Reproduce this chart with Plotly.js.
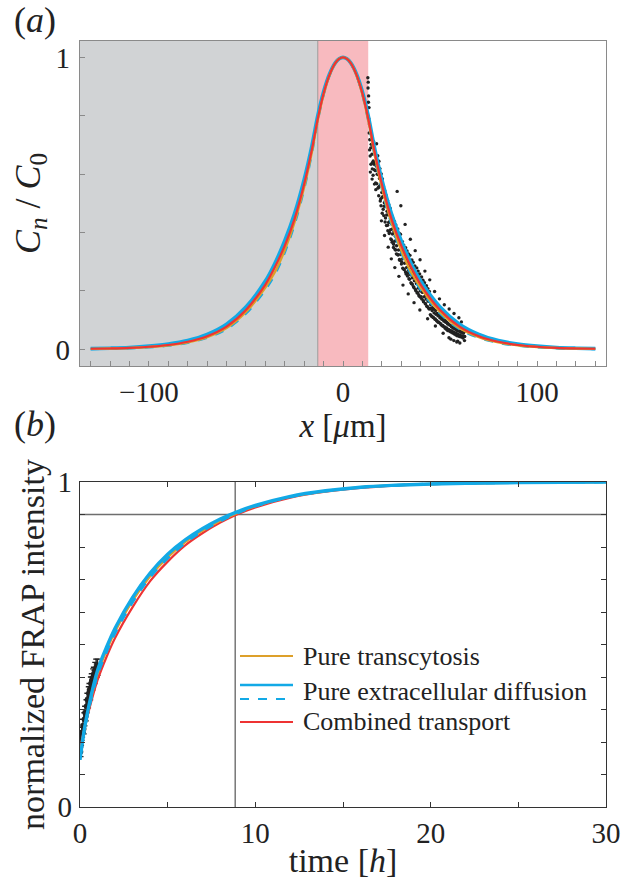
<!DOCTYPE html>
<html>
<head>
<meta charset="utf-8">
<script src="https://cdn.plot.ly/plotly-3.0.1.min.js"></script>
<style>html,body{margin:0;padding:0;background:#fff;}#chart{width:624px;height:886px;}</style>
</head>
<body>
<div id="chart"></div>
<script>
// ---------- Panel (a): concentration profiles ----------
const xProfile = [-130,-120,-110,-100,-90,-80,-70,-60,-50,-40,-35,-30,-25,-20,-16,-13,-10,-7,-4,-2,0,2,4,7,10,13,16,20,25,30,35,40,50,60,70,80,90,100,110,120,130];
const profTranscytosis = [0.0016,0.0027,0.0045,0.008,0.014,0.024,0.042,0.073,0.128,0.212,0.2656,0.340,0.435,0.556,0.677,0.785,0.873,0.938,0.980,0.995,1.0,0.995,0.980,0.938,0.873,0.785,0.677,0.556,0.435,0.340,0.2656,0.212,0.128,0.073,0.042,0.024,0.014,0.008,0.0045,0.0027,0.0016];
const profDiffusion = [0.0025,0.004,0.0065,0.011,0.018,0.030,0.051,0.086,0.145,0.234,0.296,0.372,0.464,0.582,0.698,0.80,0.882,0.942,0.981,0.995,1.0,0.995,0.981,0.942,0.882,0.80,0.698,0.582,0.464,0.372,0.296,0.234,0.145,0.086,0.051,0.030,0.018,0.011,0.0065,0.004,0.0025];
const profDiffusionDashed = [0.0015,0.0025,0.0042,0.0075,0.013,0.023,0.040,0.070,0.123,0.205,0.2584,0.3327,0.4282,0.551,0.674,0.785,0.873,0.938,0.980,0.995,1.0,0.995,0.980,0.938,0.873,0.785,0.674,0.551,0.4282,0.3327,0.2584,0.205,0.123,0.070,0.040,0.023,0.013,0.0075,0.0042,0.0025,0.0015];
const profCombined = [0.002,0.003,0.005,0.009,0.015,0.026,0.045,0.078,0.135,0.222,0.283,0.355,0.446,0.566,0.685,0.79,0.876,0.939,0.980,0.995,1.0,0.995,0.980,0.939,0.876,0.79,0.685,0.566,0.446,0.355,0.283,0.222,0.135,0.078,0.045,0.026,0.015,0.009,0.005,0.003,0.002];

// measured profile points (right of the source)
const xMeasured = [12.8,13.0,12.9,13.2,13.1,13.4,13.3,13.6,13.5,13.8,13.7,14.0,14.2,14.1,14.5,14.4,14.7,14.9,15.1,15.3,15.0,15.6,15.8,15.5,16.0,16.2,16.4,16.7,16.9,16.6,
17.1,17.3,17.4,17.7,17.9,18.0,18.2,18.5,18.4,18.8,19.0,19.2,19.5,19.7,19.6,20.0,20.3,20.2,20.6,20.8,21.0,21.3,21.5,21.7,22.0,22.2,22.4,22.7,22.9,23.1,23.4,23.6,23.8,24.1,24.3,24.6,24.8,25.1,25.3,25.6,25.8,26.0,26.3,26.5,26.8,27.0,27.2,27.5,27.7,27.9,28.2,28.4,28.7,28.9,29.1,29.4,29.6,29.8,
30.1,30.3,30.6,30.8,31.1,31.3,31.6,31.8,32.0,32.3,32.5,32.8,33.0,33.2,33.5,33.7,34.0,34.2,34.5,34.7,35.0,35.2,35.5,35.7,36.0,36.2,36.5,36.7,37.0,37.2,37.5,37.7,38.0,38.2,38.5,38.7,39.0,39.2,39.5,39.7,40.0,40.2,40.5,40.7,41.0,41.2,41.5,41.7,42.0,42.2,42.5,42.7,43.0,43.2,43.5,43.7,44.0,44.2,44.5,44.7,
45.0,45.2,45.5,45.7,46.0,46.2,46.5,46.7,47.0,47.2,47.5,47.7,48.0,48.2,48.5,48.7,49.0,49.2,49.5,49.7,50.0,50.2,50.5,50.7,51.0,51.2,51.5,51.7,52.0,52.2,52.5,52.7,53.0,53.2,53.5,53.7,54.0,54.2,54.5,54.7,55.0,55.2,55.5,55.7,56.0,56.2,56.5,56.7,57.0,57.2,57.5,57.7,58.0,58.2,58.5,58.7,59.0,59.2,59.5,59.7,60.0,60.3,60.6,60.9,61.2,61.5,61.8,62.1,62.4,62.7,63.0,61.0,
14.3,15.2,16.1,16.8,17.6,18.3,18.9,19.4,20.1,20.7,21.2,21.9,22.5,23.0,23.5,24.0,24.5,25.0,25.5,26.1,26.6,27.1,27.6,28.1,28.6,29.2,29.7,30.2,30.7,31.2,31.7,32.2,32.7,33.3,33.8,34.3,34.8,35.3,35.8,36.3,36.8,37.3,37.8,38.3,38.8,39.3,39.8,40.3,40.9,41.4,41.9,42.4,42.9,43.4,43.9,44.4,44.9,45.4,45.9,46.4,46.9,47.4,47.9,48.4,48.9,49.4,49.9,50.4,50.9,51.4,51.9,52.4,52.9,53.4,53.9,54.4,54.9,55.4,55.9,56.4,56.9,57.4,57.9,58.4,58.9,59.4,59.9,60.4,60.9,61.4,61.9,62.4,
19.8,21.4,23.3,24.9,26.7,28.8,30.9,33.6,36.6,39.6,43.6,47.6,51.6,55.6,58.6,60.2,62.6,57.1,54.6,59.1];
const yMeasured = [0.93,0.915,0.895,0.868,0.846,0.828,0.79,0.772,0.741,0.718,0.683,0.662,0.748,0.607,0.702,0.634,0.723,0.668,0.618,0.692,0.583,0.645,0.711,0.596,0.634,0.566,0.673,0.612,0.547,0.641,
0.628,0.704,0.567,0.615,0.663,0.552,0.598,0.644,0.526,0.585,0.619,0.508,0.563,0.601,0.492,0.537,0.584,0.466,0.524,0.558,0.458,0.502,0.543,0.436,0.492,0.527,0.424,0.473,0.511,0.406,0.461,0.495,0.397,0.438,0.483,0.378,0.432,0.458,0.367,0.413,0.447,0.349,0.404,0.438,0.342,0.387,0.426,0.327,0.378,0.541,0.412,0.323,0.367,0.398,0.308,0.358,0.394,0.492,
0.292,0.337,0.369,0.278,0.328,0.357,0.273,0.318,0.428,0.348,0.258,0.309,0.337,0.251,0.298,0.327,0.242,0.288,0.322,0.377,0.228,0.277,0.306,0.223,0.267,0.298,0.212,0.258,0.286,0.338,0.201,0.248,0.279,0.193,0.237,0.268,0.187,0.228,0.258,0.307,0.178,0.217,0.248,0.172,0.208,0.237,0.163,0.198,0.228,0.268,0.156,0.188,0.218,0.148,0.183,0.208,0.142,0.173,0.198,0.238,
0.119,0.153,0.173,0.113,0.143,0.168,0.109,0.138,0.163,0.198,0.104,0.133,0.153,0.099,0.123,0.148,0.093,0.118,0.143,0.173,0.089,0.113,0.133,0.083,0.108,0.128,0.079,0.103,0.123,0.153,0.073,0.098,0.118,0.069,0.093,0.113,0.064,0.088,0.108,0.138,0.062,0.083,0.103,0.059,0.078,0.098,0.056,0.073,0.093,0.123,0.052,0.072,0.088,0.049,0.068,0.084,0.046,0.064,0.081,0.108,0.044,0.062,0.078,0.042,0.059,0.074,0.039,0.056,0.069,0.044,0.063,0.094,
0.69,0.64,0.615,0.57,0.60,0.555,0.56,0.515,0.52,0.48,0.49,0.45,0.46,0.425,0.435,0.40,0.41,0.375,0.395,0.36,0.37,0.34,0.355,0.325,0.34,0.305,0.325,0.30,0.31,0.275,0.295,0.265,0.28,0.26,0.27,0.24,0.255,0.225,0.245,0.215,0.235,0.205,0.225,0.195,0.21,0.182,0.20,0.18,0.195,0.166,0.18,0.156,0.172,0.147,0.165,0.138,0.14,0.115,0.133,0.11,0.125,0.103,0.12,0.097,0.115,0.093,0.108,0.087,0.103,0.082,0.097,0.077,0.093,0.073,0.087,0.068,0.083,0.065,0.077,0.061,0.073,0.058,0.069,0.055,0.065,0.051,0.062,0.049,0.059,0.046,0.056,0.044,
0.44,0.39,0.35,0.31,0.28,0.25,0.22,0.19,0.16,0.135,0.105,0.08,0.055,0.035,0.025,0.022,0.03,0.03,0.04,0.028];

// ---------- Panel (b): FRAP recovery ----------
const tRecovery = [0,0.25,0.5,1,1.5,2,3,4,5,6,7,8,8.85,10,12,14,16,18,20,22,25,30];
const frapTranscytosis = [0.16,0.24,0.305,0.41,0.48,0.54,0.635,0.71,0.768,0.815,0.851,0.881,0.902,0.926,0.955,0.972,0.984,0.990,0.994,0.996,0.998,1.0];
const frapDiffusion = [0.145,0.24,0.31,0.42,0.49,0.55,0.645,0.72,0.778,0.822,0.857,0.886,0.906,0.928,0.956,0.973,0.984,0.990,0.994,0.996,0.998,1.0];
const frapDiffusionDashed = [0.15,0.235,0.30,0.405,0.475,0.535,0.63,0.707,0.765,0.812,0.849,0.879,0.901,0.925,0.954,0.972,0.983,0.990,0.994,0.996,0.998,1.0];
const frapCombined = [0.18,0.24,0.295,0.39,0.46,0.52,0.615,0.695,0.755,0.805,0.843,0.875,0.898,0.922,0.952,0.970,0.982,0.989,0.993,0.996,0.998,1.0];

const tMeasured = [0.00,0.03,0.06,0.09,0.12,0.17,0.21,0.25,0.29,0.33,0.37,0.42,0.46,0.50,0.54,0.58,0.62,0.67,0.71,0.75,0.79,0.83,0.87,0.92,0.96,1.00];
const frapMeasured = [0.19,0.17,0.21,0.22,0.23,0.25,0.24,0.27,0.29,0.28,0.31,0.33,0.32,0.35,0.36,0.35,0.38,0.39,0.38,0.40,0.41,0.40,0.42,0.43,0.42,0.43];
const frapError = [0.015,0.015,0.02,0.015,0.015,0.02,0.015,0.02,0.02,0.015,0.02,0.02,0.015,0.02,0.02,0.02,0.02,0.02,0.02,0.025,0.02,0.02,0.025,0.025,0.02,0.025];

const recoveryThreshold = 0.9;
const recoveryTime = 8.85;
const sourceHalfWidth = 13;

const legendLabels = ['Pure transcytosis','Pure extracellular diffusion','Combined transport'];

const C_OR = '#DDA02A', C_BL = '#12A9E6', C_RD = '#EE3333';
const SERIF = "'Liberation Serif', serif";

const traces = [
  {x:xMeasured, y:yMeasured, xaxis:'x', yaxis:'y', type:'scatter', mode:'markers',
   marker:{color:'#222', size:3.4}, showlegend:false},
  {x:xProfile, y:profDiffusion, xaxis:'x', yaxis:'y', mode:'lines', line:{color:C_BL, width:3.6, shape:'spline'}, showlegend:false},
  {x:xProfile, y:profDiffusionDashed, xaxis:'x', yaxis:'y', mode:'lines', line:{color:C_BL, width:2.6, dash:'dash', shape:'spline'}, showlegend:false},
  {x:xProfile, y:profTranscytosis, xaxis:'x', yaxis:'y', mode:'lines', line:{color:C_OR, width:2.4, shape:'spline'}, showlegend:false},
  {x:xProfile, y:profCombined, xaxis:'x', yaxis:'y', mode:'lines', line:{color:C_RD, width:2.2, shape:'spline'}, showlegend:false},

  {x:tMeasured, y:frapMeasured, xaxis:'x2', yaxis:'y2', mode:'markers',
   marker:{color:'#222', size:5.5},
   error_y:{type:'data', array:frapError, visible:true, color:'#222', thickness:1.4, width:3},
   showlegend:false},
  {x:tRecovery, y:frapCombined, xaxis:'x2', yaxis:'y2', mode:'lines', line:{color:C_RD, width:2.2, shape:'spline'}, showlegend:false},
  {x:tRecovery, y:frapTranscytosis, xaxis:'x2', yaxis:'y2', mode:'lines', line:{color:C_OR, width:2.4, shape:'spline'}, showlegend:false},
  {x:tRecovery, y:frapDiffusionDashed, xaxis:'x2', yaxis:'y2', mode:'lines', line:{color:C_BL, width:2.6, dash:'dash', shape:'spline'}, showlegend:false},
  {x:tRecovery, y:frapDiffusion, xaxis:'x2', yaxis:'y2', mode:'lines', line:{color:C_BL, width:3.4, shape:'spline'}, showlegend:false}
];

const W = 624, H = 886;
const px = v => v / W, py = v => 1 - v / H;
const xDom = [px(80), px(606)];

function tickFont() { return {family:SERIF, size:29}; }
const layout = {
  width:W, height:H, margin:{l:0, r:0, t:0, b:0},
  paper_bgcolor:'#fff', plot_bgcolor:'rgba(0,0,0,0)',
  showlegend:false,
  font:{family:SERIF, size:20, color:'#222'},
  xaxis:{domain:xDom, anchor:'y', range:[-135.5,135.5], showgrid:false, zeroline:false,
    showline:true, linecolor:'#8a8a8a', linewidth:1.2, mirror:true,
    ticks:'inside', ticklen:5, tickcolor:'#8a8a8a', tickwidth:1, tick0:0, dtick:100,
    minor:{dtick:10, ticks:'inside', ticklen:5, tickcolor:'#8a8a8a', tickwidth:1, showgrid:false},
    tickfont:tickFont(), ticklabelstandoff:0,
    title:{text:'<i>x</i> [<i>μ</i>m]', font:{family:SERIF, size:33}, standoff:0}},
  yaxis:{domain:[py(366), py(41)], anchor:'x', range:[-0.057,1.056], showgrid:false, zeroline:false,
    showline:true, linecolor:'#8a8a8a', linewidth:1.2, mirror:true,
    ticks:'inside', ticklen:5, tickcolor:'#8a8a8a', tickwidth:1, tick0:0, dtick:1,
    minor:{dtick:0.2, ticks:'inside', ticklen:5, tickcolor:'#8a8a8a', tickwidth:1, showgrid:false},
    tickfont:tickFont(), ticklabelstandoff:3,
    title:{text:'<i>C<sub>n</sub></i> / <i>C</i><sub>0</sub>', font:{family:SERIF, size:36}, standoff:4}},
  xaxis2:{domain:xDom, anchor:'y2', range:[0,30], showgrid:false, zeroline:false,
    showline:true, linecolor:'#333', linewidth:1.2, mirror:'ticks',
    ticks:'inside', ticklen:5, tickcolor:'#333', tickwidth:1, tick0:0, dtick:10,
    minor:{dtick:5, ticks:'inside', ticklen:5, tickcolor:'#333', tickwidth:1, showgrid:false},
    tickfont:tickFont(), ticklabelstandoff:0,
    title:{text:'time [<i>h</i>]', font:{family:SERIF, size:34}, standoff:0}},
  yaxis2:{domain:[py(807), py(482)], anchor:'x2', range:[0,1], showgrid:false, zeroline:false,
    showline:true, linecolor:'#333', linewidth:1.2, mirror:'ticks',
    ticks:'inside', ticklen:5, tickcolor:'#333', tickwidth:1, tick0:0, dtick:1,
    minor:{dtick:0.1, ticks:'inside', ticklen:5, tickcolor:'#333', tickwidth:1, showgrid:false},
    tickfont:tickFont(), ticklabelstandoff:1,
    title:{text:'normalized FRAP intensity', font:{family:SERIF, size:34}, standoff:2}},
  shapes:[
    {type:'rect', xref:'x', yref:'y domain', x0:-135.5, x1:-sourceHalfWidth, y0:0, y1:1, fillcolor:'#D1D3D5', line:{width:0}, layer:'below'},
    {type:'rect', xref:'x', yref:'y domain', x0:-sourceHalfWidth, x1:sourceHalfWidth, y0:0, y1:1, fillcolor:'#F8BABF', line:{width:0}, layer:'below'},
    {type:'line', xref:'x', yref:'y domain', x0:-sourceHalfWidth, x1:-sourceHalfWidth, y0:0, y1:1, line:{color:'#9a9a9a', width:1}, layer:'below'},
    {type:'line', xref:'x2', yref:'y2', x0:0, x1:30, y0:recoveryThreshold, y1:recoveryThreshold, line:{color:'#6e6e6e', width:1.4}, layer:'below'},
    {type:'line', xref:'x2', yref:'y2', x0:recoveryTime, x1:recoveryTime, y0:0, y1:1, line:{color:'#555', width:1.2}, layer:'below'},
    // legend keys
    {type:'line', xref:'paper', yref:'paper', x0:px(240), x1:px(293), y0:py(656), y1:py(656), line:{color:C_OR, width:2.2}},
    {type:'line', xref:'paper', yref:'paper', x0:px(240), x1:px(293), y0:py(685), y1:py(685), line:{color:C_BL, width:2.6}},
    {type:'line', xref:'paper', yref:'paper', x0:px(240), x1:px(293), y0:py(699), y1:py(699), line:{color:C_BL, width:2.2, dash:'dash'}},
    {type:'line', xref:'paper', yref:'paper', x0:px(240), x1:px(293), y0:py(722), y1:py(722), line:{color:C_RD, width:2.2}}
  ],
  annotations:[
    {text:'(<i>a</i>)', xref:'paper', yref:'paper', x:px(35), y:py(20), xanchor:'center', yanchor:'middle', showarrow:false, font:{family:SERIF, size:36}},
    {text:'(<i>b</i>)', xref:'paper', yref:'paper', x:px(35), y:py(424), xanchor:'center', yanchor:'middle', showarrow:false, font:{family:SERIF, size:36}},
    {text:legendLabels[0], xref:'paper', yref:'paper', x:px(301), y:py(656), xanchor:'left', yanchor:'middle', showarrow:false, font:{family:SERIF, size:26}},
    {text:legendLabels[1], xref:'paper', yref:'paper', x:px(301), y:py(691), xanchor:'left', yanchor:'middle', showarrow:false, font:{family:SERIF, size:26}},
    {text:legendLabels[2], xref:'paper', yref:'paper', x:px(301), y:py(721), xanchor:'left', yanchor:'middle', showarrow:false, font:{family:SERIF, size:26}}
  ]
};

Plotly.newPlot('chart', traces, layout, {staticPlot:true});
</script>
</body>
</html>
